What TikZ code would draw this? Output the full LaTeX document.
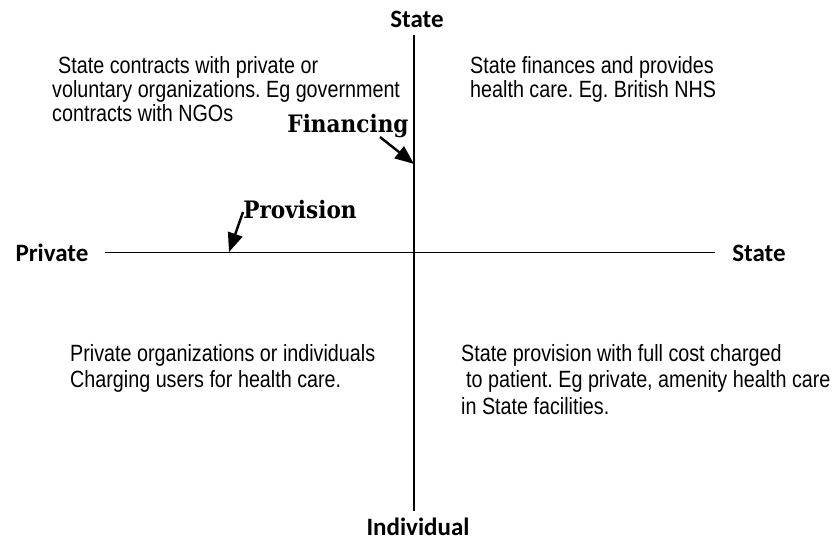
\documentclass[tikz,border=0pt]{standalone}
\usepackage{fontspec}
\usetikzlibrary{arrows.meta}
\newfontfamily\bodyfont{Liberation Sans}[FakeStretch=0.84]
\newfontfamily\axisfont{Carlito}
\newfontfamily\tagfont{DejaVu Serif}[FakeStretch=0.9]
\frenchspacing

\begin{document}
\begin{tikzpicture}[x=1pt,y=-1pt,
  axis/.style={line width=1.8pt},
  axislabel/.style={font=\axisfont\bfseries\fontsize{25}{28}\selectfont, inner sep=0, anchor=base},
  taglabel/.style={font=\tagfont\bfseries\fontsize{24}{28}\selectfont, inner sep=0, anchor=base},
  para/.style={font=\bodyfont\fontsize{23.5}{24}\selectfont, inner sep=0, anchor=base west},
  pointer/.style={line width=2.4pt, -{Triangle[length=19pt,width=15pt]}}
]
\useasboundingbox (0,0) rectangle (833,542);

% axis ends
\coordinate (vtop) at (414,35);
\coordinate (vbot) at (414,511);
\coordinate (hleft) at (105,252.5);
\coordinate (hright) at (715,252.5);

% axes
\draw[axis] (vtop) -- (vbot);
\draw[axis] (hleft) -- (hright);

% axis labels
\node[axislabel] (stateTop) at (417,27) {State};
\node[axislabel] (individual) at (418,535) {Individual};
\node[axislabel] (private) at (52,261) {Private};
\node[axislabel] (stateRight) at (759,261) {State};

% dimension tags and their pointers
\node[taglabel] (financing) at (348,132) {Financing};
\node[taglabel] (provision) at (300,218) {Provision};
\coordinate (finTail) at (380,137);
\coordinate (finTip) at (414,164);
\coordinate (provTail) at (243,212);
\coordinate (provTip) at (229,252);
\draw[pointer] (finTail) -- (finTip);
\draw[pointer] (provTail) -- (provTip);

% quadrant descriptions
\node[para] (qTL) at (52,73) {\begin{tabular}[t]{@{}l@{}}
\hspace*{6pt}State contracts with private or\\
voluntary organizations. Eg government\\
contracts with NGOs\end{tabular}};
\node[para] (qTR) at (470,73) {\begin{tabular}[t]{@{}l@{}}
State finances and provides\\
health care. Eg. British NHS\end{tabular}};
\node[para, font=\bodyfont\fontsize{23.5}{26.5}\selectfont] (qBL) at (70,361) {\begin{tabular}[t]{@{}l@{}}
Private organizations or individuals\\
Charging users for health care.\end{tabular}};
\node[para, font=\bodyfont\fontsize{23.5}{26.5}\selectfont] (qBR) at (461,361) {\begin{tabular}[t]{@{}l@{}}
State provision with full cost charged\\
\hspace*{5pt}to patient. Eg private, amenity health care\\
in State facilities.\end{tabular}};
\end{tikzpicture}
\end{document}
